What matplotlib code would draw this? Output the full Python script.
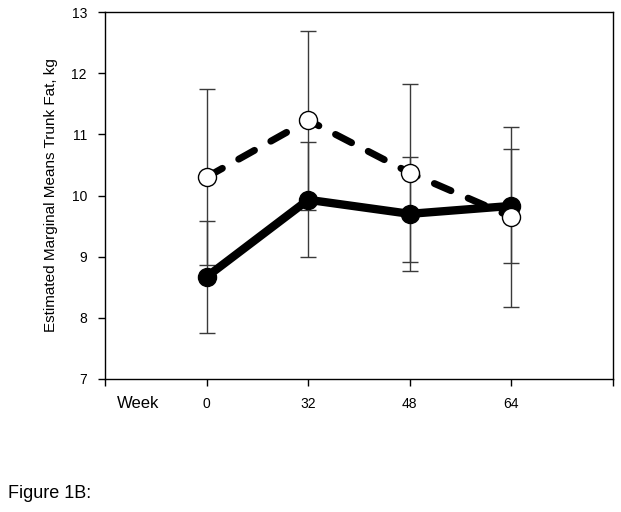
import matplotlib.pyplot as plt

plt.rcParams['font.family'] = ['Liberation Sans', 'DejaVu Sans']

weeks = ["0", "32", "48", "64"]
# group with open circles (dashed line)
open_mean = [10.30, 11.23, 10.37, 9.65]
open_err = [1.44, 1.46, 1.45, 1.47]
# group with filled circles (solid line)
fill_mean = [8.67, 9.93, 9.70, 9.83]
fill_err = [0.91, 0.94, 0.93, 0.93]

x = list(range(len(weeks)))

fig = plt.figure(figsize=(6.21, 5.12), dpi=100)
ax = fig.add_axes([105/621, 1 - 379/512, 508/621, 367/512])

# error bars
ax.errorbar(x, open_mean, yerr=open_err, fmt='none', ecolor='#3a3a3a',
            elinewidth=1, capsize=5.5, capthick=1, zorder=1)
ax.errorbar(x, fill_mean, yerr=fill_err, fmt='none', ecolor='#3a3a3a',
            elinewidth=1, capsize=5.5, capthick=1, zorder=1)

ax.plot(x, fill_mean, color='black', linewidth=6, marker='o', markersize=13,
        markerfacecolor='black', markeredgecolor='black', zorder=3)
ax.plot(x, open_mean, color='black', linewidth=5, linestyle=(0, (2.6, 2.7)),
        dash_capstyle='round', marker='o', markersize=13,
        markerfacecolor='white', markeredgecolor='black',
        markeredgewidth=1, zorder=4)

ax.set_xlim(-1, 4)
ax.set_ylim(7, 13)
ax.set_xticks([-1, 0, 1, 2, 3, 4])
ax.set_xticklabels(["", "0", "32", "48", "64", ""])
ax.set_yticks([7, 8, 9, 10, 11, 12, 13])
ax.tick_params(labelsize=10, direction='out', length=5, width=1, pad=8)
ax.set_ylabel("Estimated Marginal Means Trunk Fat, kg", fontsize=11, labelpad=10)

for s in ax.spines.values():
    s.set_linewidth(1)

fig.text(138/621, 1 - 403/512, "Week", fontsize=12, ha='center', va='center')
fig.text(8/621, 1 - 494/512, "Figure 1B:", fontsize=13, ha='left', va='center')

fig.savefig("out.png", dpi=100)
